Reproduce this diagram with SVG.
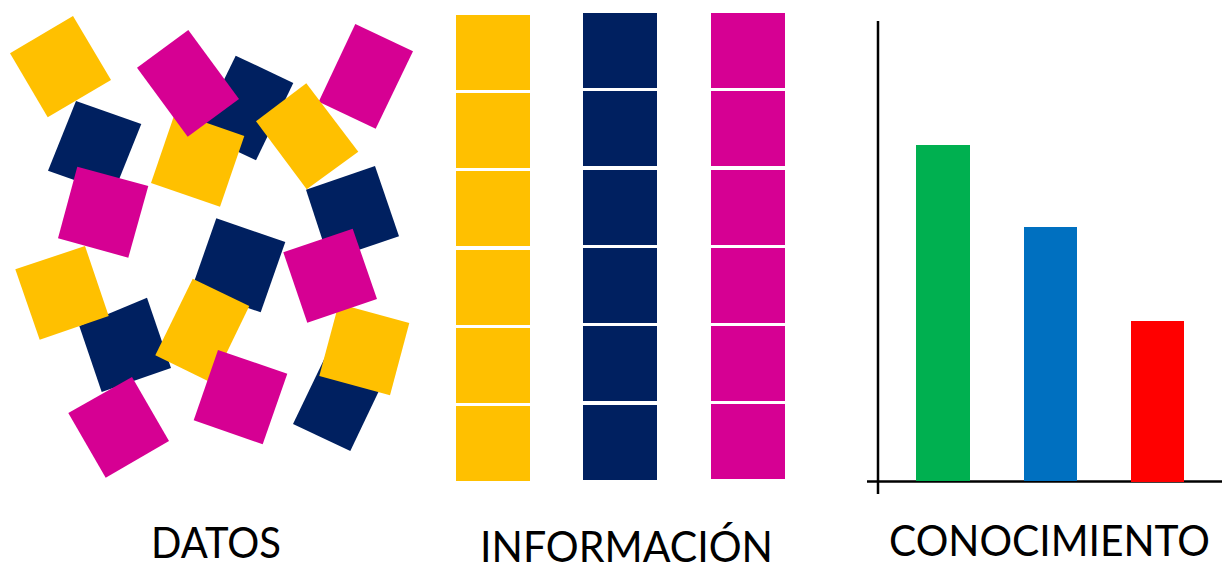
<svg xmlns="http://www.w3.org/2000/svg" width="1222" height="562" viewBox="0 0 1222 562">
<style>
.y{fill:#FFC000}.n{fill:#002060}.m{fill:#D60093}
.g{fill:#00B050}.b{fill:#0070C0}.r{fill:#FF0000}
.ax{stroke:#000;stroke-width:2.5;fill:none}
text{font-family:Lato,"Open Sans","Liberation Sans",sans-serif;font-size:42px;fill:#000}
</style>
<rect width="1222" height="562" fill="#fff"/>
<g id="datos">
<polygon class="n" points="76,101 141.3,124 113.3,193.7 48,170.7"/>
<polygon class="y" points="73,16 111,80 47.7,117.3 10,53.3"/>
<polygon class="n" points="235.7,55.7 293.3,83 256,160.3 198,133"/>
<polygon class="y" points="175.3,112 244.3,136 220,206.7 151,183"/>
<polygon class="m" points="188.3,30 239,99 187.7,136.7 137,67.7"/>
<polygon class="m" points="355.3,24 413,51.3 375.7,128.7 318.7,101.7"/>
<polygon class="n" points="375,166 399,236.3 329,260 306,189.7"/>
<polygon class="y" points="306.3,83.3 358.3,151.7 306.7,189.3 256,121.3"/>
<polygon class="m" points="77.3,166.7 148.3,186 128.3,257.7 58,238.3"/>
<polygon class="n" points="216.3,218.3 285.3,242 260.7,312.3 191.7,288.6"/>
<polygon class="n" points="147,297.7 171,368 101.7,392 79.3,326"/>
<polygon class="y" points="85,246 108.7,316 39.7,339.7 15.3,269.3"/>
<polygon class="y" points="192.7,278.7 249.3,306 212,383 155.3,355.3"/>
<polygon class="n" points="330,347 387,374 350.3,451 293,424"/>
<polygon class="y" points="338.7,303.7 409.3,323 390,395.3 319.3,376"/>
<polygon class="m" points="352.7,228.7 377,299 307.3,322.7 283.3,252.3"/>
<polygon class="m" points="218,350 287.3,373.7 262.7,444.3 193.7,420.3"/>
<polygon class="m" points="132,377 169,441 105.7,477.7 68.3,413"/>
</g>
<g id="informacion">
<rect class="y" x="456" y="15" width="74" height="75"/>
<rect class="y" x="456" y="93" width="74" height="75"/>
<rect class="y" x="456" y="171" width="74" height="75"/>
<rect class="y" x="456" y="250" width="74" height="75"/>
<rect class="y" x="456" y="328" width="74" height="75"/>
<rect class="y" x="456" y="406" width="74" height="75"/>
<rect class="n" x="583" y="13" width="74" height="75"/>
<rect class="n" x="583" y="91" width="74" height="75"/>
<rect class="n" x="583" y="170" width="74" height="75"/>
<rect class="n" x="583" y="248" width="74" height="75"/>
<rect class="n" x="583" y="326" width="74" height="75"/>
<rect class="n" x="583" y="405" width="74" height="75"/>
<rect class="m" x="711" y="13" width="74" height="75"/>
<rect class="m" x="711" y="91" width="74" height="75"/>
<rect class="m" x="711" y="170" width="74" height="75"/>
<rect class="m" x="711" y="248" width="74" height="75"/>
<rect class="m" x="711" y="326" width="74" height="75"/>
<rect class="m" x="711" y="404" width="74" height="75"/>
</g>
<g id="conocimiento">
<line class="ax" x1="878" y1="21" x2="878" y2="494"/>
<line class="ax" x1="867" y1="481.5" x2="1222" y2="481.5"/>
<rect class="g" x="916" y="145" width="54" height="336"/>
<rect class="b" x="1024" y="227" width="53" height="254"/>
<rect class="r" x="1131" y="321" width="53" height="161"/>
</g>
<text x="151" y="558" textLength="130" lengthAdjust="spacingAndGlyphs">DATOS</text>
<text x="480" y="562" textLength="293" lengthAdjust="spacingAndGlyphs">INFORMACIÓN</text>
<text x="889" y="556" textLength="321" lengthAdjust="spacingAndGlyphs">CONOCIMIENTO</text>
</svg>
